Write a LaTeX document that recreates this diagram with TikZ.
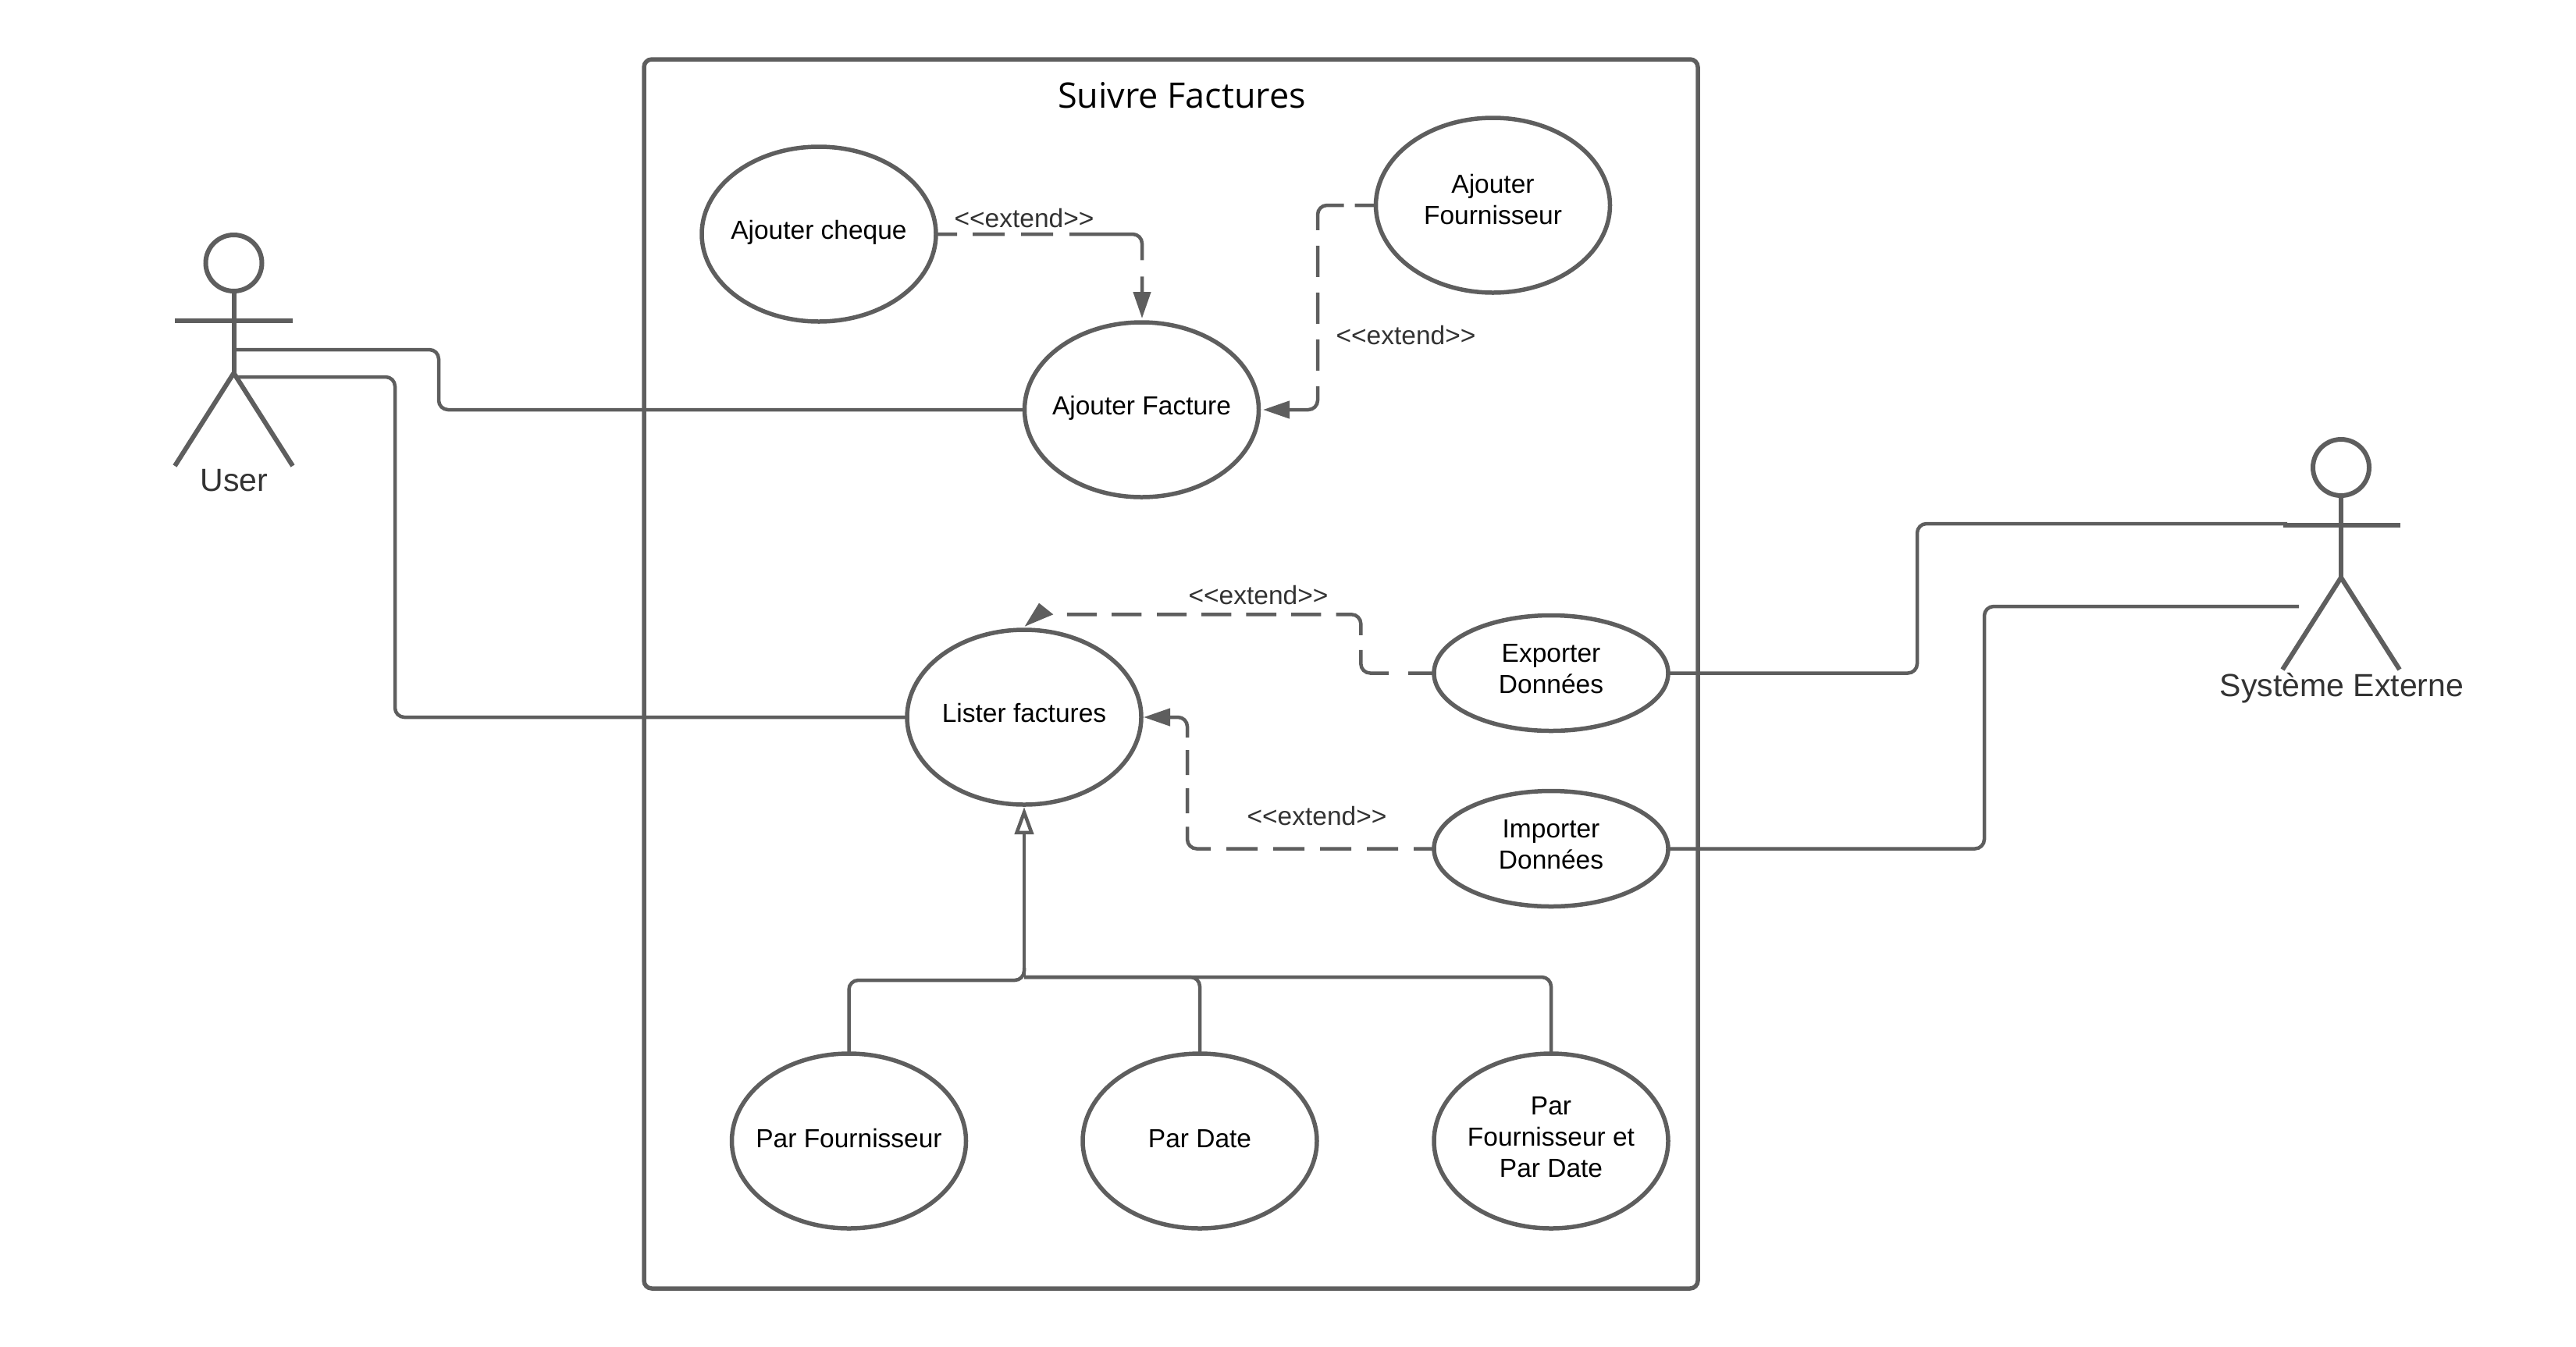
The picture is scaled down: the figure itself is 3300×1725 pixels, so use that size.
\documentclass[tikz,border=0pt]{standalone}
\usepackage{fontspec}
\setmainfont{Liberation Sans}
\newfontfamily\titlefont{Open Sans}
\usetikzlibrary{shapes.geometric,arrows.meta}
\definecolor{ln}{HTML}{5E5E5E}
\definecolor{tx}{HTML}{333333}
\tikzset{
  usecase/.style={draw=ln,line width=5.5pt,ellipse,fill=white,minimum width=300pt,minimum height=224pt,inner sep=0pt,outer sep=0pt},
  smallcase/.style={usecase,minimum height=148pt},
  casetext/.style={text=black,align=center,font=\fontsize{33.5}{40}\selectfont,inner sep=0pt,yshift=5pt},
  wire/.style={draw=ln,line width=4.5pt,rounded corners=12pt},
  fillhead/.style={-{Triangle[length=34pt,width=22pt,fill=ln]}},
  openhead/.style={-{Triangle[open,length=35pt,width=24pt,fill=white]}},
  stereo/.style={text=tx,font=\fontsize{33.5}{40}\selectfont,inner sep=0pt},
  actorlabel/.style={text=tx,font=\fontsize{41}{48}\selectfont,inner sep=0pt},
  limb/.style={draw=ln,line width=6pt},
}
\begin{document}
\begin{tikzpicture}[x=1pt,y=-1pt]
\useasboundingbox (0,0) rectangle (3300,1725);
% system frame
\node[draw=ln,line width=5.5pt,rounded corners=10pt,minimum width=1350pt,minimum height=1575pt,inner sep=0pt,outer sep=0pt] (frame) at (1500,863.5) {};
\node[inner sep=0pt,font=\titlefont\fontsize{45}{52}\selectfont,text=black] (title) at (1514,122) {Suivre Factures};
% use cases
\node[usecase,label={[casetext,yshift=-3pt]center:Ajouter cheque}] (cheque) at (1049,300) {};
\node[usecase,label={[casetext,yshift=-3pt]center:Ajouter Facture}] (facture) at (1462.5,525) {};
\node[usecase,label={[casetext,yshift=2pt]center:Ajouter\\Fournisseur}] (fourn) at (1912.5,263) {};
\node[usecase,label={[casetext]center:Lister factures}] (lister) at (1312,919) {};
\node[smallcase,label={[casetext]center:Exporter\\Données}] (export) at (1987,862.5) {};
\node[smallcase,label={[casetext]center:Importer\\Données}] (import) at (1987,1087.5) {};
\node[usecase,label={[casetext,yshift=-2pt]center:Par Fournisseur}] (parf) at (1087.5,1462) {};
\node[usecase,label={[casetext,yshift=-2pt]center:Par Date}] (pard) at (1537,1462) {};
\node[usecase,label={[casetext]center:Par\\Fournisseur et\\Par Date}] (parfd) at (1987,1462) {};
% actors
\node[draw=ln,line width=6pt,circle,minimum size=72pt,inner sep=0pt,outer sep=0pt] (uhead) at (299.5,337) {};
\coordinate (uhip) at (299.5,478);
\coordinate (ularm) at (224,411);
\coordinate (urarm) at (375,411);
\coordinate (ullg) at (224,597);
\coordinate (urlg) at (375,597);
\coordinate (ut1) at (301,448);
\coordinate (ut2) at (301,483);
\draw[limb] (uhead.south) -- (uhip);
\draw[limb] (ularm) -- (urarm);
\draw[limb] (ullg) -- (uhip) -- (urlg);
\node[actorlabel] (user) at (300,616) {User};
\node[draw=ln,line width=6pt,circle,minimum size=72pt,inner sep=0pt,outer sep=0pt] (shead) at (2999,599) {};
\coordinate (ship) at (2999,740);
\coordinate (slarm) at (2925,673);
\coordinate (srarm) at (3075,673);
\coordinate (sllg) at (2924,858);
\coordinate (srlg) at (3074,858);
\coordinate (st1) at (2930,671);
\coordinate (st2) at (2945,777);
\draw[limb] (shead.south) -- (ship);
\draw[limb] (slarm) -- (srarm);
\draw[limb] (sllg) -- (ship) -- (srlg);
\node[actorlabel] (sys) at (3000,882) {Système Externe};
% associations
\draw[wire] (ut1) -- (562,448) -- (562,525) -- (facture.west);
\draw[wire] (ut2) -- (506,483) -- (506,919) -- (lister.west);
\draw[wire] (export.east) -- (2456,862.5) -- (2456,671) -- (st1);
\draw[wire] (import.east) -- (2542,1087.5) -- (2542,777) -- (st2);
% extends
\draw[wire,fillhead,dash pattern=on 27pt off 20pt on 41pt off 21pt on 41pt off 21pt on 121pt off 21pt on 300pt off 1pt] (cheque.east) -- (1463,300) -- (1463,408);
\draw[wire,fillhead,dash pattern=on 27pt off 14pt on 60pt off 20pt on 40pt off 20pt on 40pt off 20pt on 40pt off 20pt on 300pt off 1pt] (fourn.west) -- (1688,263) -- (1688,525) -- (1618,525);
\draw[wire,dash pattern=on 33pt off 25pt on 60pt off 19pt on 53pt off 19.3pt on 38.3pt off 19pt on 38.7pt off 19pt on 38.3pt off 19pt on 38pt off 19.7pt on 38.3pt off 19pt on 38.3pt off 19.7pt] (export.west) -- (1743.3,862.5) -- (1743.3,787.3) -- (1349,787.3);
\fill[ln] (1312.7,802.7) -- (1331,772.7) -- (1349.3,787.3) -- cycle;
\draw[wire,fillhead,dash pattern=on 26pt off 20pt on 40pt off 20pt on 40pt off 20pt on 40pt off 20pt on 40pt off 20pt on 53pt off 17pt on 32pt off 17pt on 32pt off 16pt on 300pt off 1pt] (import.west) -- (1521,1087.5) -- (1521,919) -- (1465,919);
\node[stereo] (e1) at (1312,280) {<\kern0pt<extend>\kern0pt>};
\node[stereo] (e2) at (1801,430) {<\kern0pt<extend>\kern0pt>};
\node[stereo] (e3) at (1612,763) {<\kern0pt<extend>\kern0pt>};
\node[stereo] (e4) at (1687,1046) {<\kern0pt<extend>\kern0pt>};
% generalisations
\draw[wire] (parf.north) -- (1087.5,1256) -- (1312,1256) -- (1312,1240);
\draw[wire] (pard.north) -- (1537,1252) -- (1312,1252);
\draw[wire] (parfd.north) -- (1987,1252) -- (1312,1252);
\draw[wire,openhead] (1312,1250) -- (1312,1034);
\end{tikzpicture}
\end{document}
